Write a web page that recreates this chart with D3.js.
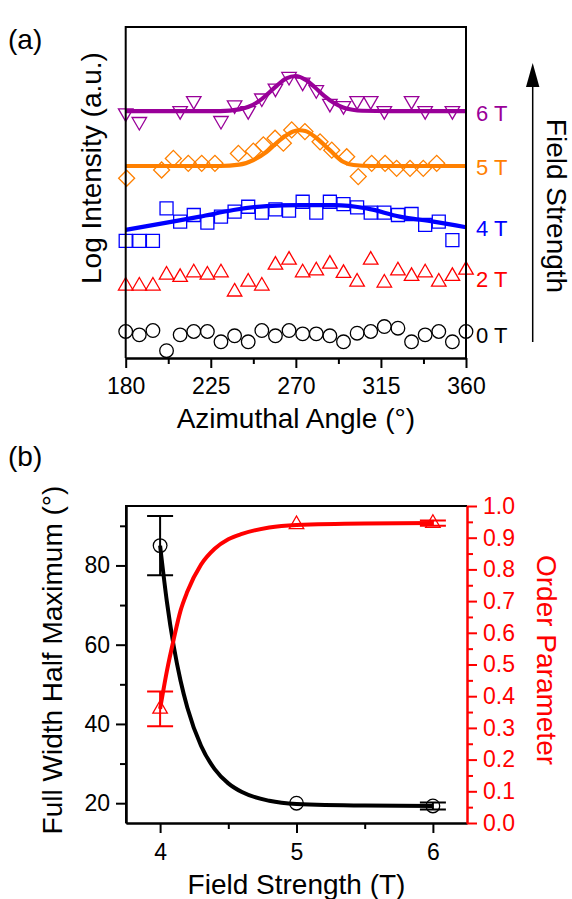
<!DOCTYPE html>
<html><head><meta charset="utf-8">
<script src="https://cdn.jsdelivr.net/npm/d3@7"></script>
<style>
html,body{margin:0;padding:0;background:#fff;}
svg{display:block;}
text{font-family:"Liberation Sans",Arial,sans-serif;}
</style></head>
<body>
<svg id="chart" width="572" height="899"></svg>
<script>
// ---------- Panel (a) data ----------
const angleTicks = [180, 225, 270, 315, 360];
const angleMinor = [202.5, 247.5, 292.5, 337.5];
const gridAngles = [180,187.2,194.4,201.6,208.8,216,223.2,230.4,237.6,244.8,252,259.2,266.4,273.6,280.8,288,295.2,302.4,309.6,316.8,324,331.2,338.4,345.6,352.8,360];
const int0T = [0.80,0.70,0.83,0.22,0.70,0.80,0.80,0.49,0.67,0.49,0.83,0.67,0.83,0.73,0.73,0.67,0.49,0.75,0.80,0.95,0.90,0.49,0.70,0.80,0.49,0.80];
const int2T = [2.18,2.18,2.18,2.51,2.44,2.58,2.51,2.58,2.00,2.30,2.18,2.81,2.96,2.58,2.64,2.84,2.56,2.30,2.96,2.27,2.64,2.47,2.58,2.30,2.47,2.66];
const angles4T = [180,187.2,194.4,201.6,208.8,216,223.2,230.4,237.6,244.8,252,259.2,266.4,273.6,280.8,288,295.2,302.4,309.6,316.8,324,331.2,338.4,345.6,352.8];
const int4T = [3.54,3.54,3.54,4.52,4.12,4.32,4.09,4.27,4.42,4.57,4.39,4.49,4.45,4.72,4.39,4.72,4.65,4.55,4.39,4.39,4.32,4.35,4.02,4.12,3.56];
const angles5T = [180.5,199.0,205.2,213.1,220.2,227.2,239.6,247.5,252.8,259.0,263.4,267.8,274.8,282.8,289.0,296.9,303.0,310.1,317.2,323.3,330.4,337.4,344.5];
const int5T = [5.43,5.68,6.03,5.88,5.88,5.88,6.18,6.25,6.44,6.64,6.49,6.89,6.84,6.53,6.28,6.08,5.48,5.88,5.88,5.73,5.73,5.73,5.88];
const angles6T = [180,187.2,208.8,216,230.4,237.6,244.8,252,259.2,266.4,273.6,280.8,288,295.2,302.4,309.6,316.8,331.2,338.4,352.8];
const int6T = [7.40,7.14,7.47,7.77,7.17,7.64,7.47,7.85,8.15,8.50,8.33,8.10,7.69,7.62,7.77,7.77,7.47,7.77,7.47,7.47];
// fitted curves
const fit4Angles = [180,201.7,219.3,237,254.6,272.2,290,307.5,325,342.8,360];
const fit4Vals = [3.87,4.09,4.27,4.47,4.59,4.62,4.62,4.52,4.27,4.12,3.95];
const fit5Angles = [180,230,240,247.5,254.6,261.7,268.6,272,275,281,288,295,300.5,310,360];
const fit5Vals = [5.80,5.80,5.84,5.98,6.23,6.59,6.84,6.88,6.86,6.64,6.28,5.93,5.83,5.80,5.80];
const fit6Angles = [180,230,240,245,250,255,260,265,270,275,280,285,290,295,300,305,320,360];
const fit6Vals = [7.46,7.46,7.51,7.59,7.74,7.97,8.23,8.45,8.52,8.41,8.18,7.92,7.71,7.57,7.50,7.47,7.46,7.46];
const seriesLabels = ["0 T","2 T","4 T","5 T","6 T"];

// ---------- Panel (b) data ----------
const fieldTicks = [4, 5, 6];
const fieldMinor = [4.5, 5.5];
const fwhmTicks = [20, 40, 60, 80];
const fwhmMinor = [30, 50, 70, 90];
const orderTicks = [0,0.1,0.2,0.3,0.4,0.5,0.6,0.7,0.8,0.9,1.0];
const orderMinor = [0.05,0.15,0.25,0.35,0.45,0.55,0.65,0.75,0.85,0.95];
const fieldT = [4, 5, 6];
const fwhm = [85, 20, 19.3];
const fwhmErr = [7.5, 0, 0.9];
const order = [0.36, 0.942, 0.946];
const orderErr = [0.055, 0, 0.008];
const fitT = [4.0,4.05,4.1,4.15,4.2,4.3,4.4,4.5,4.6,4.8,5.0,5.5,6.0];
const fitFwhm = [85.0,70.8,59.6,50.9,44.1,34.5,28.6,25.0,22.8,20.6,19.8,19.4,19.3];
const fitOrder = [0.36,0.48,0.58,0.67,0.73,0.815,0.865,0.895,0.912,0.932,0.940,0.945,0.946];

// ---------- styles ----------
const C = {purple:"#990099", orange:"#FF8000", blue:"#0000FF", red:"#FF0000", black:"#000000"};
const svg = d3.select("#chart");
const FONT = '"Liberation Sans",Arial,sans-serif';

// ================= Panel (a) =================
const A = {l:125.7, r:466, t:27, b:358};
const xA = d3.scaleLinear().domain([180,360]).range([A.l, A.r]);
const yA = d3.scaleLinear().domain([0,10]).range([A.b, A.t]);
const gA = svg.append("g");

function markers(g, xs, ys, xScale, yScale, type, color){
  const sym = {
    circle: d3.symbol().type(d3.symbolCircle).size(Math.PI*6.8*6.8),
    square: d3.symbol().type(d3.symbolSquare).size(13*13),
    diamond: d3.symbol().type(d3.symbolSquare).size(11.3*11.3),
    tri: d3.symbol().type(d3.symbolTriangle).size(Math.sqrt(3)/4*14.5*14.5),
  };
  g.append("g").selectAll("path").data(xs.map((x,i)=>[x,ys[i]])).join("path")
    .attr("d", type==="triDown"? sym.tri() : sym[type]())
    .attr("transform", d=>{
      let t = `translate(${xScale(d[0])},${yScale(d[1])})`;
      if(type==="diamond") t += " rotate(45)";
      if(type==="triDown") t += " rotate(180)";
      return t;
    })
    .attr("fill","none").attr("stroke",color).attr("stroke-width",1.3);
}
function fitLine(g, xs, ys, xScale, yScale, color, w, curve){
  g.append("path").datum(xs.map((x,i)=>[x,ys[i]]))
    .attr("d", d3.line().x(d=>xScale(d[0])).y(d=>yScale(d[1])).curve(curve||d3.curveMonotoneX))
    .attr("fill","none").attr("stroke",color).attr("stroke-width",w)
    .attr("stroke-linejoin","round").attr("stroke-linecap","butt");
}

markers(gA, gridAngles, int0T, xA, yA, "circle", C.black);
markers(gA, gridAngles, int2T, xA, yA, "tri", C.red);
markers(gA, angles4T, int4T, xA, yA, "square", C.blue);
fitLine(gA, fit4Angles, fit4Vals, xA, yA, C.blue, 4.2);
markers(gA, angles5T, int5T, xA, yA, "diamond", C.orange);
fitLine(gA, fit5Angles, fit5Vals, xA, yA, C.orange, 4.2);
markers(gA, angles6T, int6T, xA, yA, "triDown", C.purple);
fitLine(gA, fit6Angles, fit6Vals, xA, yA, C.purple, 4.2);

// frame
gA.append("path").attr("d", `M${A.l},${A.b}V${A.t}H${A.r}V${A.b}`)
  .attr("fill","none").attr("stroke","#000").attr("stroke-width",2);
const axA = gA.append("g").attr("transform",`translate(0,${A.b})`)
  .call(d3.axisBottom(xA).tickValues(angleTicks).tickSize(10).tickSizeOuter(0).tickPadding(10).tickFormat(d3.format("d")));
const axAm = gA.append("g").attr("transform",`translate(0,${A.b})`)
  .call(d3.axisBottom(xA).tickValues(angleMinor).tickSize(6).tickSizeOuter(0).tickFormat(""));
[axA, axAm].forEach(ax=>{
  ax.select(".domain").attr("stroke","#000").attr("stroke-width",2);
  ax.selectAll(".tick line").attr("stroke","#000").attr("stroke-width",2);
  ax.selectAll("text").attr("font-size",23).attr("font-family",FONT).attr("fill","#000");
});
gA.append("text").attr("x",(A.l+A.r)/2).attr("y",428).attr("text-anchor","middle")
  .attr("font-size",28).text("Azimuthal Angle (°)");
gA.append("text").attr("transform",`translate(101,168) rotate(-90)`).attr("text-anchor","middle")
  .attr("font-size",28).text("Log Intensity (a.u.)");
// series labels on right
const labelColors = [C.black, C.red, C.blue, C.orange, C.purple];
const labelY = [343, 287, 236, 175, 121];
seriesLabels.forEach((s,i)=>{
  gA.append("text").attr("x",476).attr("y",labelY[i]).attr("font-size",22)
    .attr("fill",labelColors[i]).text(s);
});
// arrow
gA.append("line").attr("x1",532.7).attr("x2",532.7).attr("y1",342).attr("y2",80)
  .attr("stroke","#000").attr("stroke-width",1.5);
gA.append("path").attr("d","M532.7,63L526,87L539.4,87Z").attr("fill","#000");
gA.append("text").attr("transform","translate(547,206) rotate(90)").attr("text-anchor","middle")
  .attr("font-size",28).text("Field Strength");
svg.append("text").attr("x",8).attr("y",49).attr("font-size",28).text("(a)");

// ================= Panel (b) =================
const B = {l:126, r:467, t:506, b:823};
const xB = d3.scaleLinear().domain([3.75,6.25]).range([B.l,B.r]);
const yB = d3.scaleLinear().domain([15,95]).range([B.b,B.t]);
const yR = d3.scaleLinear().domain([0,1]).range([B.b,B.t]);
const gB = svg.append("g");

gB.append("path").attr("d",`M${B.l},${B.b}V${B.t}H${B.r}`).attr("fill","none").attr("stroke","#000").attr("stroke-width",2);

function styleAxis(ax, color){
  ax.select(".domain").attr("stroke",color).attr("stroke-width",2);
  ax.selectAll(".tick line").attr("stroke",color).attr("stroke-width",2);
  ax.selectAll("text").attr("font-size",23).attr("font-family",FONT).attr("fill",color);
}
styleAxis(gB.append("g").attr("transform",`translate(0,${B.b})`)
  .call(d3.axisBottom(xB).tickValues(fieldTicks).tickSize(10).tickSizeOuter(0).tickPadding(11).tickFormat(d3.format("d"))),"#000");
styleAxis(gB.append("g").attr("transform",`translate(0,${B.b})`)
  .call(d3.axisBottom(xB).tickValues(fieldMinor).tickSize(6).tickSizeOuter(0).tickFormat("")),"#000");
styleAxis(gB.append("g").attr("transform",`translate(${B.l},0)`)
  .call(d3.axisLeft(yB).tickValues(fwhmTicks).tickSize(10).tickSizeOuter(0).tickPadding(6).tickFormat(d3.format("d"))),"#000");
styleAxis(gB.append("g").attr("transform",`translate(${B.l},0)`)
  .call(d3.axisLeft(yB).tickValues(fwhmMinor).tickSize(6).tickSizeOuter(0).tickFormat("")),"#000");
styleAxis(gB.append("g").attr("transform",`translate(${B.r},0)`)
  .call(d3.axisRight(yR).tickValues(orderTicks).tickSize(10).tickSizeOuter(0).tickPadding(6).tickFormat(d3.format(".1f"))),C.red);
styleAxis(gB.append("g").attr("transform",`translate(${B.r},0)`)
  .call(d3.axisRight(yR).tickValues(orderMinor).tickSize(6).tickSizeOuter(0).tickFormat("")),C.red);

function errBars(g, xs, ys, es, xScale, yScale, color){
  xs.forEach((x,i)=>{
    if(!es[i]) return;
    const px = xScale(x), y1 = yScale(ys[i]-es[i]), y2 = yScale(ys[i]+es[i]);
    g.append("path").attr("d",`M${px},${y1}V${y2}M${px-13},${y1}H${px+13}M${px-13},${y2}H${px+13}`)
      .attr("fill","none").attr("stroke",color).attr("stroke-width",2);
  });
}
markers(gB, fieldT, fwhm, xB, yB, "circle", C.black);
errBars(gB, fieldT, fwhm, fwhmErr, xB, yB, C.black);
fitLine(gB, fitT, fitFwhm, xB, yB, C.black, 4, d3.curveMonotoneX);
markers(gB, fieldT, order, xB, yR, "tri", C.red);
errBars(gB, fieldT, order, orderErr, xB, yR, C.red);
fitLine(gB, fitT, fitOrder, xB, yR, C.red, 4, d3.curveMonotoneX);

gB.append("text").attr("x",(B.l+B.r)/2).attr("y",894).attr("text-anchor","middle")
  .attr("font-size",28).text("Field Strength (T)");
gB.append("text").attr("transform",`translate(62,660) rotate(-90)`).attr("text-anchor","middle")
  .attr("font-size",28).text("Full Width Half Maximum (°)");
gB.append("text").attr("transform",`translate(537,660) rotate(90)`).attr("text-anchor","middle")
  .attr("font-size",28).attr("fill",C.red).text("Order Parameter");
svg.append("text").attr("x",8).attr("y",466).attr("font-size",28).text("(b)");
</script>
</body></html>
